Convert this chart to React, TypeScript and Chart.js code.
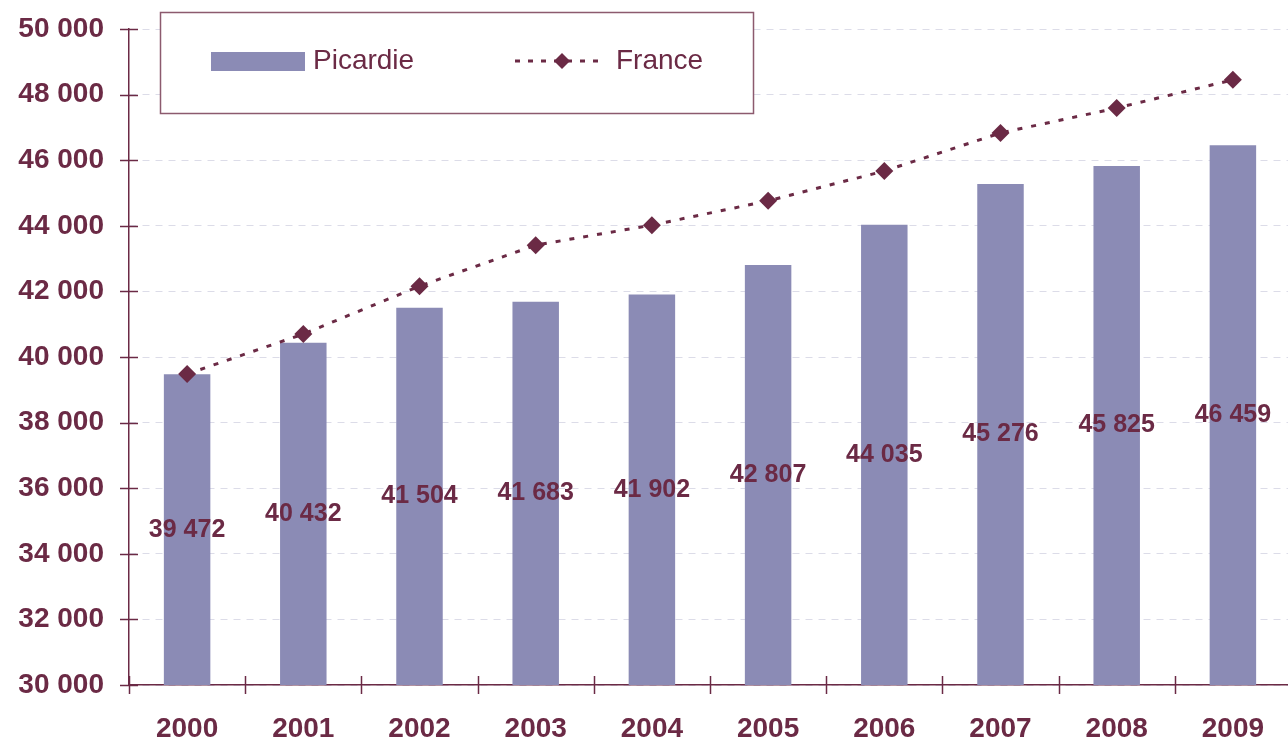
import React, { useEffect, useRef } from "react";
import { Chart, registerables } from "chart.js";

Chart.register(...registerables);

const years = ["2000", "2001", "2002", "2003", "2004", "2005", "2006", "2007", "2008", "2009"];
const picardie = [39472, 40432, 41504, 41683, 41902, 42807, 44035, 45276, 45825, 46459];
const france = [39480, 40700, 42160, 43410, 44020, 44760, 45670, 46830, 47590, 48450];
const yMin = 30000;
const yMax = 50000;
const yStep = 2000;

const MAROON = "#6B2A45";
const BAR = "#8B8BB5";
const FONT = "'Liberation Sans', Arial, sans-serif";

const fmt = (v: number) => String(Math.round(v)).replace(/\B(?=(\d{3})+(?!\d))/g, " ");

const decor = {
  id: "decor",
  afterDraw(chart: any) {
    const ctx = chart.ctx;
    const area = chart.chartArea;
    const ys = chart.scales.y;
    const xs = chart.scales.x;
    ctx.save();
    // data labels at bar centres
    ctx.fillStyle = MAROON;
    ctx.font = `bold 25px ${FONT}`;
    ctx.textAlign = "center";
    ctx.textBaseline = "middle";
    picardie.forEach((v, i) => {
      const x = xs.getPixelForValue(i);
      const y = (ys.getPixelForValue(v) + ys.getPixelForValue(yMin)) / 2;
      ctx.fillText(fmt(v), x, y);
    });
    ctx.strokeStyle = MAROON;
    ctx.lineWidth = 1.5;
    // y tick marks crossing axis
    for (let v = yMin; v <= yMax; v += yStep) {
      const py = Math.round(ys.getPixelForValue(v)) + 0.5;
      ctx.beginPath();
      ctx.moveTo(area.left - 9, py);
      ctx.lineTo(area.left + 9, py);
      ctx.stroke();
    }
    // x tick marks at category boundaries
    const n = years.length;
    const w = (area.right - area.left) / n;
    for (let k = 0; k <= n; k++) {
      const px = Math.round(area.left + k * w) + 0.5;
      ctx.beginPath();
      ctx.moveTo(px, area.bottom - 9);
      ctx.lineTo(px, area.bottom + 9);
      ctx.stroke();
    }
    // legend box
    ctx.fillStyle = "#ffffff";
    ctx.fillRect(160, 12, 593, 101);
    ctx.strokeStyle = "#8C5A6E";
    ctx.lineWidth = 1.5;
    ctx.strokeRect(160.5, 12.5, 593, 101);
    // Picardie swatch
    ctx.fillStyle = BAR;
    ctx.fillRect(211, 52, 94, 19);
    ctx.fillStyle = MAROON;
    ctx.font = `28px ${FONT}`;
    ctx.textAlign = "left";
    ctx.textBaseline = "middle";
    ctx.fillText("Picardie", 313, 61);
    // France line sample
    ctx.strokeStyle = MAROON;
    ctx.lineWidth = 3;
    ctx.setLineDash([5, 8]);
    ctx.beginPath();
    ctx.moveTo(515, 61);
    ctx.lineTo(606, 61);
    ctx.stroke();
    ctx.setLineDash([]);
    ctx.beginPath();
    ctx.moveTo(562, 53);
    ctx.lineTo(570, 61);
    ctx.lineTo(562, 69);
    ctx.lineTo(554, 61);
    ctx.closePath();
    ctx.fill();
    ctx.fillText("France", 616, 61);
    ctx.restore();
  },
};

export default function App() {
  const ref = useRef<HTMLCanvasElement | null>(null);
  useEffect(() => {
    if (!ref.current) return;
    const chart = new Chart(ref.current, {
      type: "bar",
      data: {
        labels: years,
        datasets: [
          {
            type: "bar",
            label: "Picardie",
            data: picardie,
            backgroundColor: BAR,
            categoryPercentage: 1,
            barPercentage: 0.4,
            order: 1,
          },
          {
            type: "line",
            label: "France",
            data: france,
            borderColor: MAROON,
            backgroundColor: MAROON,
            borderWidth: 3,
            borderDash: [5, 9],
            pointStyle: "rectRot",
            pointRadius: 9,
            pointBorderWidth: 0,
            pointBackgroundColor: MAROON,
            tension: 0,
            order: 0,
          } as any,
        ],
      },
      options: {
        responsive: false,
        animation: false,
        devicePixelRatio: 1,
        layout: { padding: { top: 29, right: 0, left: 0, bottom: 0 } },
        plugins: {
          legend: { display: false },
          tooltip: { enabled: false },
        },
        scales: {
          x: {
            offset: true,
            grid: { display: false, drawTicks: false },
            border: { display: true, color: MAROON, width: 1.5 },
            ticks: {
              color: MAROON,
              font: { family: FONT, size: 28, weight: "bold" },
              padding: 27,
              maxRotation: 0,
            },
            afterFit: (s: any) => {
              s.height = 55;
              s.paddingLeft = 0;
              s.paddingRight = 0;
            },
          },
          y: {
            min: yMin,
            max: yMax,
            grid: { color: "#DCDCE8", lineWidth: 1, drawTicks: false },
            border: { display: true, color: MAROON, width: 1.5, dash: [7, 6] },
            ticks: {
              stepSize: yStep,
              color: MAROON,
              font: { family: FONT, size: 28, weight: "bold" },
              padding: 25,
              callback: (v: any) => fmt(Number(v)),
            },
            afterFit: (s: any) => {
              s.width = 129;
              s.paddingTop = 0;
              s.paddingBottom = 0;
            },
          },
        },
      },
      plugins: [decor],
    } as any);
    return () => chart.destroy();
  }, []);
  return (
    <div style={{ position: "fixed", left: 0, top: 0, width: 1288, height: 740, overflow: "hidden", background: "#fff" }}>
      <canvas ref={ref} width={1300} height={740} style={{ display: "block", width: 1300, height: 740 }} />
    </div>
  );
}
